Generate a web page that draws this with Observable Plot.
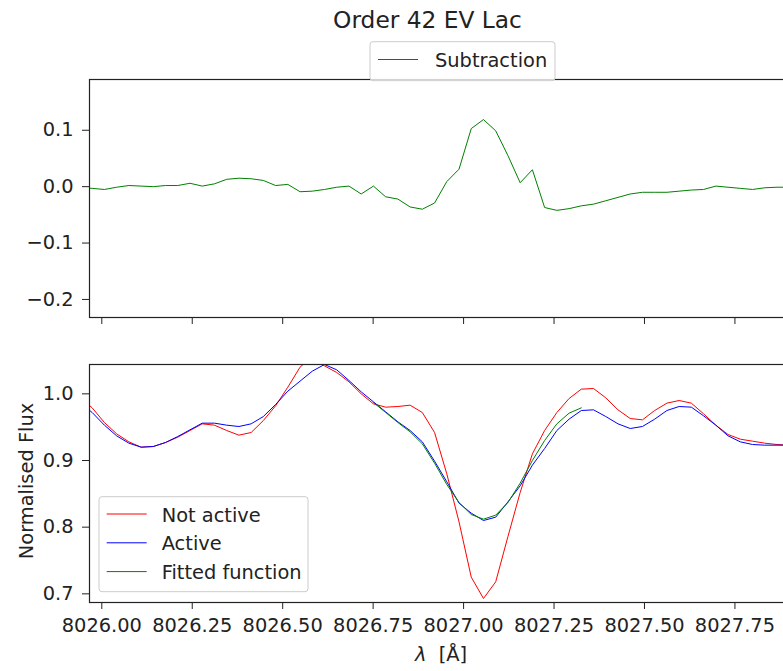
<!DOCTYPE html>
<html><head><meta charset="utf-8">
<script src="https://cdn.jsdelivr.net/npm/d3@7"></script>
<script src="https://cdn.jsdelivr.net/npm/@observablehq/plot@0.6"></script>
<style>
html,body{margin:0;padding:0;background:#fff;overflow:hidden;}
#fig{position:relative;width:783px;height:671px;overflow:hidden;font-family:"DejaVu Sans";}
#fig > *{position:absolute;}
#fig svg{max-width:none !important;}
</style></head><body><div id="fig"></div>
<script>
// Wavelength grid (Å)
const wavelength = [8025.9396,8025.9734,8026.0072,8026.0410,8026.0748,8026.1086,8026.1424,8026.1762,8026.2100,8026.2438,
8026.2776,8026.3114,8026.3452,8026.3790,8026.4128,8026.4466,8026.4804,8026.5142,8026.5480,8026.5818,
8026.6156,8026.6494,8026.6832,8026.7170,8026.7508,8026.7846,8026.8184,8026.8522,8026.8860,8026.9198,
8026.9536,8026.9874,8027.0212,8027.0550,8027.0888,8027.1226,8027.1564,8027.1902,8027.2240,8027.2578,
8027.2916,8027.3254,8027.3592,8027.3930,8027.4268,8027.4606,8027.4944,8027.5282,8027.5620,8027.5958,
8027.6296,8027.6634,8027.6972,8027.7310,8027.7648,8027.7986,8027.8324,8027.8662,8027.9000,8027.9338,
8027.9676,8028.0014,8028.0352];
// Top panel: Subtraction
const subtraction = [-0.002,-0.003,-0.005,-0.001,0.002,0.001,0.000,0.002,0.002,0.006,
0.001,0.005,0.013,0.015,0.014,0.011,0.002,0.004,-0.009,-0.008,
-0.005,-0.001,0.001,-0.013,0.001,-0.018,-0.022,-0.036,-0.040,-0.029,
0.009,0.031,0.103,0.119,0.099,0.055,0.007,0.030,-0.037,-0.042,
-0.039,-0.034,-0.031,-0.025,-0.019,-0.013,-0.010,-0.010,-0.010,-0.008,
-0.006,-0.005,0.001,-0.001,-0.003,-0.005,-0.002,-0.001,-0.001,0.000,
0.000,-0.001,0.000];
// Bottom panel: Not active
const notActive = [0.995,0.979,0.957,0.940,0.928,0.920,0.921,0.927,0.935,0.945,
0.955,0.953,0.945,0.938,0.942,0.960,0.982,1.010,1.040,1.056,
1.042,1.032,1.018,1.000,0.985,0.980,0.981,0.983,0.972,0.942,
0.880,0.808,0.725,0.693,0.718,0.786,0.852,0.910,0.945,0.972,
0.993,1.007,1.008,0.994,0.976,0.963,0.961,0.975,0.986,0.990,
0.986,0.970,0.953,0.939,0.932,0.929,0.926,0.924,0.923,0.922,
0.921,0.920,0.920];
// Bottom panel: Active
const active = [0.987,0.972,0.953,0.937,0.926,0.920,0.921,0.927,0.936,0.946,
0.956,0.956,0.953,0.951,0.955,0.966,0.984,1.004,1.019,1.034,
1.044,1.036,1.020,1.003,0.988,0.973,0.958,0.945,0.928,0.899,
0.868,0.836,0.821,0.810,0.815,0.838,0.862,0.893,0.918,0.945,
0.962,0.975,0.976,0.966,0.955,0.948,0.951,0.962,0.975,0.981,
0.980,0.967,0.953,0.937,0.928,0.924,0.923,0.923,0.923,0.922,
0.922,0.921,0.921];
// Bottom panel: Fitted function
const fittedWavelength = [8026.7508,8026.7846,8026.8184,8026.8522,8026.8860,8026.9198,8026.9536,8026.9874,8027.0212,
8027.0550,8027.0888,8027.1226,8027.1564,8027.1902,8027.2240,8027.2578,8027.2916,8027.3254];
const fitted = [0.987,0.972,0.957,0.943,0.925,0.896,0.864,0.837,0.819,
0.812,0.818,0.837,0.866,0.900,0.930,0.955,0.971,0.979];

const xTicks = [8026.00,8026.25,8026.50,8026.75,8027.00,8027.25,8027.50,8027.75];
const yTopTicks = [-0.2,-0.1,0.0,0.1];
const yBottomTicks = [0.7,0.8,0.9,1.0];

const FONT = "DejaVu Sans";
const xDomain = [8025.966, 8028.028];
const fmtY = d => d.toFixed(1).replace("-", "\u2212");
const common = {
  width: 860, marginLeft: 89, marginRight: 25,
  style: {fontFamily: FONT, fontSize: "19.4px", color: "#222", background: "transparent", overflow: "visible", maxWidth: "none"}
};

const topRows = wavelength.map((w, i) => ({w, v: subtraction[i]}));
const topPlot = Plot.plot({
  ...common, height: 250, marginTop: 2, marginBottom: 10,
  x: {domain: xDomain, ticks: xTicks, tickSize: 7, tickFormat: () => "", label: null},
  y: {domain: [-0.232, 0.190], ticks: yTopTicks, tickSize: 7, tickPadding: 9, tickFormat: fmtY, label: null},
  marks: [
    Plot.line(topRows, {x: "w", y: "v", stroke: "green", strokeWidth: 1, clip: true}),
    Plot.frame({stroke: "#222", strokeWidth: 1.2})
  ]
});

const bottomRows = [
  ...wavelength.map((w, i) => ({w, v: notActive[i], s: "Not active"})),
  ...wavelength.map((w, i) => ({w, v: active[i], s: "Active"})),
  ...fittedWavelength.map((w, i) => ({w, v: fitted[i], s: "Fitted function"}))
];
const bottomPlot = Plot.plot({
  ...common, height: 280, marginTop: 2, marginBottom: 40,
  x: {domain: xDomain, ticks: xTicks, tickSize: 7, tickPadding: 9, tickFormat: d3.format(".2f"), label: null},
  y: {domain: [0.687, 1.044], ticks: yBottomTicks, tickSize: 7, tickPadding: 9, tickFormat: fmtY, label: null},
  color: {domain: ["Not active", "Active", "Fitted function"], range: ["red", "blue", "green"]},
  marks: [
    Plot.line(bottomRows, {x: "w", y: "v", z: "s", stroke: "s", strokeWidth: 1, clip: true}),
    Plot.frame({stroke: "#222", strokeWidth: 1.2})
  ]
});

const fig = document.getElementById("fig");
topPlot.style.left = "0px"; topPlot.style.top = "77px"; topPlot.style.maxWidth = "none";
bottomPlot.style.left = "0px"; bottomPlot.style.top = "362px"; bottomPlot.style.maxWidth = "none";
fig.appendChild(topPlot);
fig.appendChild(bottomPlot);

// Title, axis labels and legends
const ns = "http://www.w3.org/2000/svg";
const ov = document.createElementNS(ns, "svg");
ov.setAttribute("width", 783); ov.setAttribute("height", 671);
ov.style.left = "0px"; ov.style.top = "0px";
ov.setAttribute("font-family", FONT);
ov.setAttribute("fill", "#222");
function el(tag, attrs, text) {
  const e = document.createElementNS(ns, tag);
  for (const k in attrs) e.setAttribute(k, attrs[k]);
  if (text != null) e.textContent = text;
  ov.appendChild(e);
  return e;
}
el("text", {x: 427.5, y: 28, "text-anchor": "middle", "font-size": "23.3px"}, "Order 42 EV Lac");

// top legend
el("rect", {x: 370, y: 41.7, width: 185, height: 39, rx: 3, fill: "#fff", "fill-opacity": 0.8, stroke: "#ccc", "stroke-width": 1});
el("line", {x1: 378, x2: 418, y1: 59.5, y2: 59.5, stroke: "green", "stroke-width": 1});
el("text", {x: 435, y: 66.5, "font-size": "19.4px"}, "Subtraction");

// bottom legend
const legendNames = ["Not active", "Active", "Fitted function"];
const legendColors = ["red", "blue", "green"];
el("rect", {x: 99, y: 496.7, width: 209, height: 95, rx: 3, fill: "#fff", "fill-opacity": 0.8, stroke: "#ccc", "stroke-width": 1});
legendNames.forEach((n, i) => {
  const y = 514 + i * 28.8;
  el("line", {x1: 106.7, x2: 146.7, y1: y, y2: y, stroke: legendColors[i], "stroke-width": 1});
  el("text", {x: 161.7, y: y + 7.5, "font-size": "19.4px"}, n);
});

// x label
const xl = el("text", {x: 441, y: 661, "text-anchor": "middle", "font-size": "19.4px", style: "white-space:pre"});
const t1 = document.createElementNS(ns, "tspan"); t1.setAttribute("font-style", "italic"); t1.textContent = "\u03bb"; xl.appendChild(t1);
const t2 = document.createElementNS(ns, "tspan"); t2.textContent = "  [\u00c5]"; xl.appendChild(t2);

// y label
el("text", {transform: "translate(33,481) rotate(-90)", "text-anchor": "middle", "font-size": "19.4px"}, "Normalised Flux");

fig.appendChild(ov);
</script>
</body></html>
